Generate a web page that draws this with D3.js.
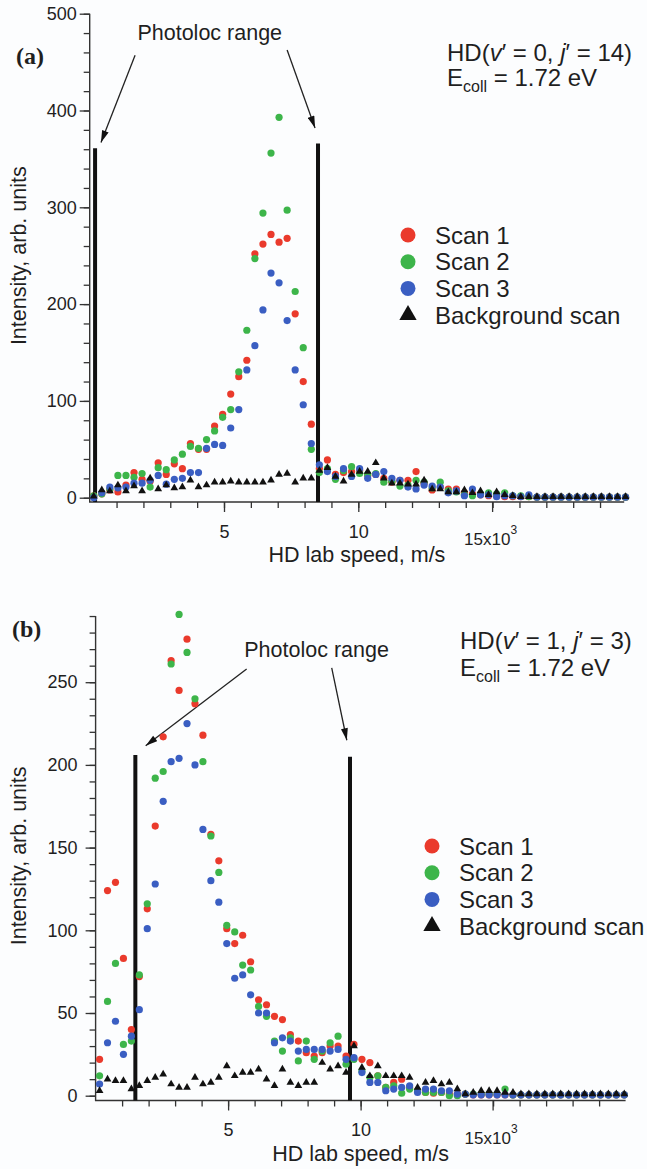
<!DOCTYPE html>
<html>
<head>
<meta charset="utf-8">
<script src="https://cdn.jsdelivr.net/npm/d3@7"></script>
<style>
  body { margin: 0; background: #fcfdfe; }
  text { font-family: "Liberation Sans", Arial, sans-serif; fill: #1f1f1f; }
</style>
</head>
<body>
<svg id="chart" width="647" height="1169"></svg>
<script>
// HD lab speed grid (units of 10^3 m/s), shared by both panels
const speed = [0.15, 0.45, 0.75, 1.05, 1.35, 1.65, 1.95, 2.25, 2.55, 2.85,
  3.15, 3.45, 3.75, 4.05, 4.35, 4.65, 4.95, 5.25, 5.55, 5.85,
  6.15, 6.45, 6.75, 7.05, 7.35, 7.65, 7.95, 8.25, 8.55, 8.85,
  9.15, 9.45, 9.75, 10.05, 10.35, 10.65, 10.95, 11.25, 11.55, 11.85,
  12.15, 12.45, 12.75, 13.05, 13.35, 13.65, 13.95, 14.25, 14.55, 14.85,
  15.15, 15.45, 15.75, 16.05, 16.35, 16.65, 16.95, 17.25, 17.55, 17.85,
  18.15, 18.45, 18.75, 19.05, 19.35, 19.65, 19.95];

// panel (a): HD(v'=0, j'=14)
const scan1A = [2, 4, 8, 6, 13, 26, 19, 17, 36, 24,
  35, 30, 56, 50, 50, 74, 86, 107, 125, 142,
  252, 262, 272, 264, 268, 190, 120, 76, 30, 39,
  24, 26, 27, 28, 23, 24, 20, 16, 18, 18,
  27, 15, 8, 11, 9, 9, 5, 4, 3, 2,
  2, 1, 1, 1, 1, 0.5, 0.5, 0.5, 0.5, 0.5,
  0.5, 0.5, 0.5, 0.5, 0.5, 0.5, 0.5];
const scan2A = [2, 4, 9, 23, 23, 21, 25, 11, 31, 29,
  39, 45, 53, 51, 60, 69, 83, 91, 130, 173,
  247, 294, 356, 393, 297, 213, 155, 50, 26, 30,
  19, 28, 32, 25, 24, 25, 16, 17, 12, 13,
  18, 16, 10, 16, 7, 6, 3, 2, 4, 5,
  4, 5, 2, 2, 1, 0.5, 0.5, 0.5, 0.5, 0.5,
  0.5, 0.5, 0.5, 0.5, 0.5, 0.5, 0.5];
const scan3A = [0, 5, 11, 10, 11, 15, 15, 18, 23, 14,
  19, 20, 26, 26, 51, 55, 54, 72, 91, 132,
  157, 194, 232, 222, 183, 132, 96, 56, 34, 27,
  22, 30, 22, 30, 20, 24, 27, 20, 18, 11,
  9, 13, 12, 11, 5, 7, 2, 9, 3, 3,
  1, 2, 2, 1, 3, 0.5, 0.5, 0.5, 0.5, 0.5,
  0.5, 0.5, 0.5, 0.5, 0.5, 0.5, 0.5];
const backgroundA = [1.5, 8, 7, 13, 7, 12, 7, 20, 9, 13,
  10, 11, 18, 11, 13, 16, 16, 17, 16, 16,
  16, 16, 18, 24, 25, 16, 20, 20, 28, 31,
  22, 17, 24, 27, 27, 36, 20, 15, 15, 14,
  14, 18, 9, 9, 6, 6, 8, 5, 7, 3,
  6, 3, 2, 1, 1, 1, 1, 1, 1, 1,
  1, 1, 1, 1, 1, 1, 1];

// panel (b): HD(v'=1, j'=3)
const scan1B = [22, 124, 129, 83, 40, 72, 113, 163, 217, 263,
  245, 276, 237, 218, 158, 142, 101, 92, 97, 81,
  58, 55, 48, 46, 37, 33, 26, 24, 26, 30,
  30, 24, 31, 22, 20, 12, 5, 8, 10, 5,
  3, 2, 1.5, 2, 1, 1, 1, 0.5, 0.5, 0.5,
  0.5, 0.5, 0.5, 0.5, 0.5, 0.5, 0.5, 0.5, 0.5, 0.5,
  0.5, 0.5, 0.5, 0.5, 0.5, 0.5, 0.5];
const scan2B = [12, 57, 80, 31, 33, 73, 116, 192, 196, 261,
  291, 268, 240, 202, 157, 135, 103, 99, 79, 76,
  54, 48, 33, 27, 35, 21, 33, 22, 27, 32,
  36, 19, 22, 15, 11, 12, 5, 6, 1.5, 4,
  3, 2, 2, 2, 0, 0, 1, 1, 1, 1,
  1, 4, 0.5, 0.5, 0.5, 0.5, 0.5, 0.5, 0.5, 0.5,
  0.5, 0.5, 0.5, 0.5, 0.5, 0.5, 0.5];
const scan3B = [7, 32, 45, 25, 36, 52, 101, 128, 178, 202,
  204, 225, 200, 161, 130, 117, 92, 71, 73, 61,
  50, 50, 32, 35, 33, 27, 28, 28, 28, 27,
  28, 22, 23, 14, 8, 8, 3, 4, 5, 6,
  2, 4, 4, 3, 3, 1, 1, 0.5, 0.5, 0.5,
  0.5, 0.5, 0.5, 0.5, 0.5, 0.5, 0.5, 0.5, 0.5, 0.5,
  0.5, 0.5, 0.5, 0.5, 0.5, 0.5, 0.5];
const backgroundB = [3, 10, 9, 9, 4, 6, 9, 11, 13, 7,
  5, 5, 11, 7, 8, 11, 18, 12, 14, 14,
  16, 10, 6, 16, 8, 6, 8, 8, 20, 16,
  18, 14, 30, 17, 12, 18, 12, 12, 12, 11,
  5, 8, 9, 7, 8, 4, 1, 2, 3, 3,
  3, 2, 2, 1, 1, 1, 1, 1, 1, 1,
  1, 1, 1, 1, 1, 1, 1];

// photoloc range markers: speed and top of each bar
const photolocSpeedA = [0.2, 8.5];
const photolocTopA = [361, 366];
const photolocSpeedB = [1.5, 9.6];
const photolocTopB = [206, 205];

// tick labels
const yTicksA = [0, 100, 200, 300, 400, 500];
const yTicksB = [0, 50, 100, 150, 200, 250];
const xTicks = [5, 10];
const xTickExp = 15;

const seriesNames = ['Scan 1', 'Scan 2', 'Scan 3', 'Background scan'];
const seriesColors = ['#ea3a2c', '#3db54a', '#3a5ec2', '#111111'];

const svg = d3.select('#chart');

svg.append('defs').append('marker')
  .attr('id', 'arrowhead')
  .attr('markerUnits', 'userSpaceOnUse')
  .attr('viewBox', '0 0 12 7')
  .attr('refX', 12)
  .attr('refY', 3.5)
  .attr('markerWidth', 13)
  .attr('markerHeight', 7)
  .attr('orient', 'auto')
  .append('path')
  .attr('d', 'M0,0 L12,3.5 L0,7 Z')
  .attr('fill', '#111');

function drawPanel(p)
{
  const x = d3.scaleLinear().domain([0, 20]).range(p.xRange);
  const y = d3.scaleLinear().domain(p.yDomain).range(p.yRange);
  const g = svg.append('g');

  // y axis: major + minor ticks
  const yMajor = d3.axisLeft(y).tickValues(p.yTicks).tickSize(10).tickPadding(p.yPad);
  const yMinor = d3.axisLeft(y).tickValues(d3.range(0, p.yDomain[1] + 1, p.yMinorStep)).tickSize(6).tickFormat('');
  [yMinor, yMajor].forEach(ax =>
  {
    const a = g.append('g').attr('transform', `translate(${ p.xRange[0] },0)`).call(ax);
    a.select('.domain').remove();
    a.selectAll('line').attr('stroke', '#333').attr('stroke-width', 1.3);
    a.selectAll('text').style('font-size', '18px').attr('fill', '#1f1f1f');
  });

  // x axis: major + minor ticks
  const xMajor = d3.axisBottom(x).tickValues(xTicks).tickSize(10).tickPadding(13);
  const xMinor = d3.axisBottom(x).tickValues(d3.range(1, 20, 1)).tickSize(6).tickFormat('');
  [xMinor, xMajor].forEach(ax =>
  {
    const a = g.append('g').attr('transform', `translate(0,${ p.axisY })`).call(ax);
    a.select('.domain').remove();
    a.selectAll('line').attr('stroke', '#333').attr('stroke-width', 1.3);
    a.selectAll('text').style('font-size', '18px').attr('fill', '#1f1f1f');
  });
  g.append('line')
    .attr('x1', x(xTickExp)).attr('x2', x(xTickExp))
    .attr('y1', p.axisY).attr('y2', p.axisY + 10)
    .attr('stroke', '#333').attr('stroke-width', 1.3);
  const expLabel = g.append('text')
    .attr('x', x(xTickExp) - 2)
    .attr('y', p.axisY + 43)
    .attr('text-anchor', 'middle')
    .style('font-size', '17px');
  expLabel.append('tspan').text('15x10');
  expLabel.append('tspan').attr('dy', -11).style('font-size', '12px').text('3');

  // axis lines
  g.append('path')
    .attr('d', `M${ p.xRange[0] },${ y(p.yDomain[1]) } V${ p.axisY } H${ x(p.xEnd) }`)
    .attr('fill', 'none').attr('stroke', '#333').attr('stroke-width', 1.4);

  // axis titles
  g.append('text')
    .attr('x', (p.xRange[0] + x(p.xEnd)) / 2)
    .attr('y', p.axisY + 60)
    .attr('text-anchor', 'middle')
    .style('font-size', '21.5px')
    .text('HD lab speed, m/s');
  g.append('text')
    .attr('transform', `translate(26,${ (y(p.yDomain[1]) + p.yRange[0]) / 2 }) rotate(-90)`)
    .attr('text-anchor', 'middle')
    .style('font-size', '21.5px')
    .text('Intensity, arb. units');

  // panel label
  g.append('text')
    .attr('x', p.label[1]).attr('y', p.label[2])
    .style('font-family', '"Liberation Serif", "Times New Roman", serif')
    .style('font-weight', 'bold')
    .style('font-size', '24px')
    .text(p.label[0]);

  // photoloc range bars
  g.selectAll('.bar')
    .data(p.barSpeed.map((s, i) => ({ s, top: p.barTop[i] })))
    .enter()
    .append('line')
    .attr('x1', d => x(d.s)).attr('x2', d => x(d.s))
    .attr('y1', d => y(d.top)).attr('y2', p.axisY)
    .attr('stroke', '#111').attr('stroke-width', 4);

  g.append('text')
    .attr('x', x(p.rangeText[0])).attr('y', y(p.rangeText[1]))
    .attr('text-anchor', 'middle')
    .style('font-size', '21.5px')
    .text('Photoloc range');

  g.selectAll('.arrow')
    .data(p.arrows)
    .enter()
    .append('line')
    .attr('x1', d => x(d.from[0])).attr('y1', d => y(d.from[1]))
    .attr('x2', d => x(d.to[0])).attr('y2', d => y(d.to[1]))
    .attr('stroke', '#222').attr('stroke-width', 1.3)
    .attr('marker-end', 'url(#arrowhead)');

  // data points: scans then background triangles
  const tri = d3.symbol().type(d3.symbolTriangle).size(26);
  p.series.forEach((vals, k) =>
  {
    const pts = speed.map((s, i) => ({ s, v: vals[i] }));
    if (k < 3)
    {
      g.append('g').selectAll('circle')
        .data(pts)
        .enter()
        .append('circle')
        .attr('cx', d => x(d.s))
        .attr('cy', d => y(d.v))
        .attr('r', 3.6)
        .attr('fill', seriesColors[k]);
    }
    else
    {
      g.append('g').selectAll('path')
        .data(pts)
        .enter()
        .append('path')
        .attr('d', tri)
        .attr('transform', d => `translate(${ x(d.s) },${ y(d.v) })`)
        .attr('fill', seriesColors[k]);
    }
  });

  // annotation
  const ann = g.append('text').attr('x', p.ann.x).attr('y', p.ann.y1).style('font-size', '24px');
  ann.append('tspan').text('HD(');
  ann.append('tspan').style('font-style', 'italic').text('v');
  ann.append('tspan').text(`\u2032 = ${ p.ann.v }, `);
  ann.append('tspan').style('font-style', 'italic').text('j');
  ann.append('tspan').text(`\u2032 = ${ p.ann.j })`);
  const ec = g.append('text').attr('x', p.ann.x).attr('y', p.ann.y2).style('font-size', '24px');
  ec.append('tspan').text('E');
  ec.append('tspan').attr('dy', 6).style('font-size', '16px').text('coll');
  ec.append('tspan').attr('dy', -6).text(' = 1.72 eV');

  // legend
  const legend = g.append('g');
  const item = legend.selectAll('g')
    .data(seriesNames)
    .enter()
    .append('g')
    .attr('transform', (d, i) => `translate(${ p.legend[0] },${ p.legend[1] + i * 26.7 })`);
  item.filter((d, i) => i < 3).append('circle')
    .attr('r', 7.5)
    .attr('fill', (d, i) => seriesColors[i]);
  item.filter((d, i) => i === 3).append('path')
    .attr('d', d3.symbol().type(d3.symbolTriangle).size(130))
    .attr('fill', seriesColors[3]);
  item.append('text')
    .attr('x', 27)
    .attr('dy', '0.36em')
    .style('font-size', '24px')
    .text(d => d);
}

drawPanel({
  xRange: [89.7, 89.7 + 20 * 26.86], xEnd: 19.9,
  yDomain: [0, 500], yRange: [497.7, 497.7 - 500 * 0.968],
  axisY: 502, yTicks: yTicksA, yMinorStep: 20, yPad: 3,
  series: [scan1A, scan2A, scan3A, backgroundA],
  barSpeed: photolocSpeedA, barTop: photolocTopA,
  rangeText: [4.47, 473],
  arrows: [{ from: [1.69, 457], to: [0.42, 367] }, { from: [7.35, 462.5], to: [8.39, 382] }],
  label: ['(a)', 16, 64],
  ann: { x: 447, y1: 61, y2: 86, v: 0, j: 14 },
  legend: [408, 235]
});

drawPanel({
  xRange: [95.6, 95.6 + 20 * 26.5], xEnd: 20,
  yDomain: [0, 290], yRange: [1095.7, 1095.7 - 290 * 1.654],
  axisY: 1100.5, yTicks: yTicksB, yMinorStep: 10, yPad: 8,
  series: [scan1B, scan2B, scan3B, backgroundB],
  barSpeed: photolocSpeedB, barTop: photolocTopB,
  rangeText: [8.34, 265],
  arrows: [{ from: [5.70, 258], to: [1.89, 211.6] }, { from: [8.91, 258.6], to: [9.48, 214.9] }],
  label: ['(b)', 12, 637],
  ann: { x: 460, y1: 649, y2: 676, v: 1, j: 3 },
  legend: [432, 846]
});
</script>
</body>
</html>
